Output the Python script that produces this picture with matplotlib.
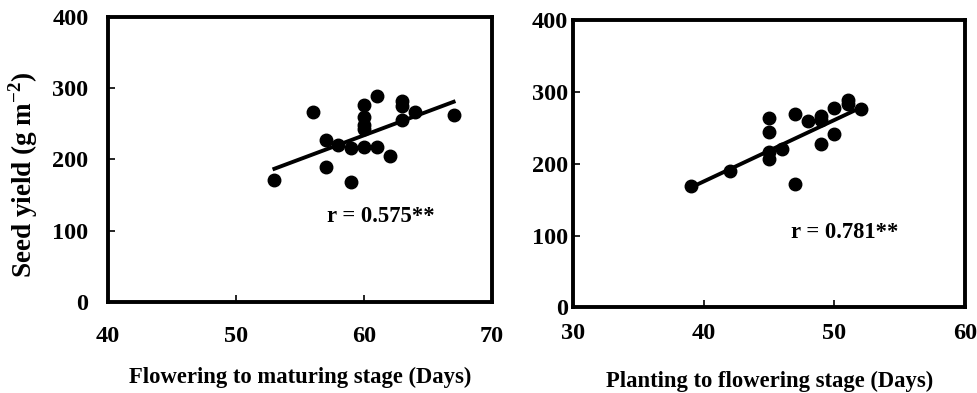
import matplotlib
matplotlib.use("Agg")
import matplotlib.pyplot as plt

plt.rcParams['font.family'] = ['Liberation Serif', 'DejaVu Serif']
plt.rcParams['font.weight'] = 'bold'

# panel A: flowering to maturing stage vs seed yield
flow_mat_days = [53, 56, 57, 57, 58, 59, 59, 60, 60, 60, 60, 60,
                 61, 61, 62, 63, 63, 63, 64, 67]
flow_mat_yield = [171, 267, 227, 190, 221, 216, 168, 276, 259, 243, 248, 218,
                  289, 217, 205, 282, 275, 256, 267, 262]
fit_a_x = [53, 67]
fit_a_y = [187, 281]

# panel B: planting to flowering stage vs seed yield
plant_flow_days = [39, 42, 45, 45, 45, 45, 46, 47, 47, 48, 49, 49,
                   49, 50, 50, 51, 51, 52]
plant_flow_yield = [169, 190, 264, 244, 217, 206, 220, 269, 172, 259, 267, 261,
                    228, 278, 241, 289, 283, 276]
fit_b_x = [39, 52]
fit_b_y = [167, 278]

fig = plt.figure(figsize=(9.78, 3.93), dpi=100)
ax1 = fig.add_axes([0.1104, 0.2316, 0.3927, 0.7251])
ax2 = fig.add_axes([0.5864, 0.2176, 0.4003, 0.7315])

tick_fs = 17.5
lab_fs = 16.3

def style(ax, xlim, xticks, ypad, xpad):
    ax.set_xlim(*xlim)
    ax.set_ylim(0, 400)
    ax.set_xticks(xticks)
    ax.set_yticks([0, 100, 200, 300, 400])
    for s in ax.spines.values():
        s.set_linewidth(2.8)
    ax.tick_params(axis='both', direction='in', length=5, width=1.2,
                   labelsize=tick_fs, top=False, right=False)
    ax.tick_params(axis='y', pad=ypad)
    ax.tick_params(axis='x', pad=xpad)
    for lab in ax.get_xticklabels() + ax.get_yticklabels():
        lab.set_fontweight('bold')

ax1.plot(flow_mat_days, flow_mat_yield, 'o', color='black', markersize=9)
ax1.plot(fit_a_x, fit_a_y, '-', color='black', linewidth=2.8)
style(ax1, (40, 70), [40, 50, 60, 70], 14, 17)
ax1.text(57.1, 120, 'r = 0.575**', fontsize=lab_fs, fontweight='bold', va='center')
ax1.set_xlabel('Flowering to maturing stage (Days)', fontsize=lab_fs, fontweight='bold')
ax1.xaxis.set_label_coords(0.5, -0.226)
ax1.set_ylabel('Seed yield (g m$^{\\mathregular{-2}}$)', fontsize=19.5, fontweight='bold')
ax1.yaxis.set_label_coords(-0.178, 0.447)

ax2.plot(plant_flow_days, plant_flow_yield, 'o', color='black', markersize=9)
ax2.plot(fit_b_x, fit_b_y, '-', color='black', linewidth=2.8)
style(ax2, (30, 60), [30, 40, 50, 60], 4, 11)
ax2.text(46.7, 104, 'r = 0.781**', fontsize=lab_fs, fontweight='bold', va='center')
ax2.set_xlabel('Planting to flowering stage (Days)', fontsize=lab_fs, fontweight='bold')
ax2.xaxis.set_label_coords(0.5, -0.22)

fig.savefig('out.png', dpi=100)
